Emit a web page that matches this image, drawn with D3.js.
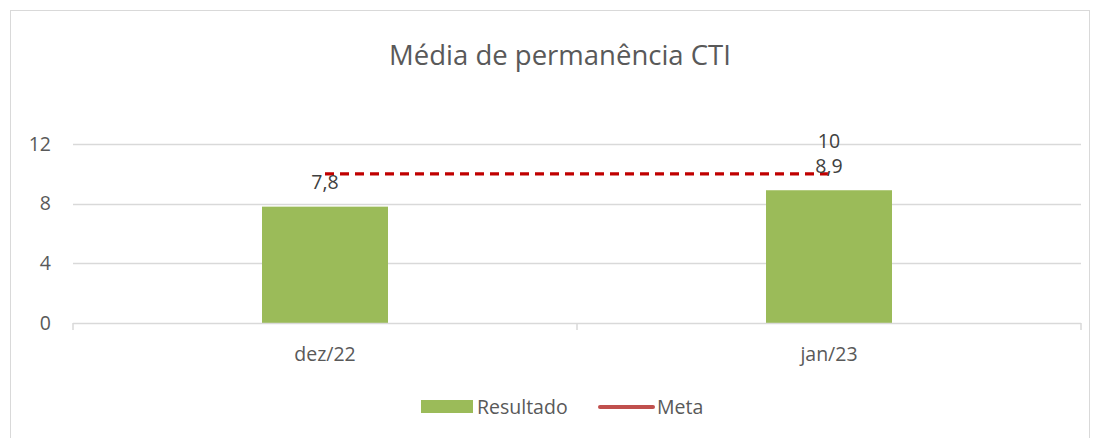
<!DOCTYPE html>
<html><head><meta charset="utf-8">
<script src="https://cdn.jsdelivr.net/npm/d3@7"></script>
<style>body{margin:0;background:#fff;} text{font-family:"Open Sans",Calibri,sans-serif;}</style>
</head><body>
<svg id="c" width="1099" height="438"></svg>
<script>
const categories = ["dez/22", "jan/23"];
const resultado = [7.8, 8.9];
const resultadoLabels = ["7,8", "8,9"];
const meta = [10, 10];
const metaLabels = ["", "10"];
const yTicks = [0, 4, 8, 12];

const svg = d3.select("#c");
const m = {l: 73, r: 1081, t: 144, b: 323};
const fs = 19.5;

svg.append("rect").attr("x", 10.5).attr("y", 10.5).attr("width", 1079).attr("height", 430)
  .attr("fill", "#fff").attr("stroke", "#d9d9d9");

const x = d3.scaleBand().domain(categories).range([m.l, m.r]);
const y = d3.scaleLinear().domain([0, 12]).range([m.b, m.t]);

// gridlines
svg.append("g").selectAll("line").data(yTicks.filter(d => d > 0)).join("line")
  .attr("x1", m.l).attr("x2", m.r).attr("y1", d => Math.round(y(d)) + 0.5).attr("y2", d => Math.round(y(d)) + 0.5)
  .attr("stroke", "#d9d9d9").attr("stroke-width", 1.5);

// y labels
svg.append("g").selectAll("text").data(yTicks).join("text")
  .attr("x", 51).attr("y", d => y(d)).attr("dy", "0.35em").attr("text-anchor", "end")
  .attr("font-size", fs).attr("fill", "#595959").text(d => d);

// bars
const bw = x.bandwidth() * 0.25;
svg.append("g").selectAll("rect").data(categories).join("rect")
  .attr("x", d => x(d) + x.bandwidth() / 2 - bw / 2)
  .attr("y", (d, i) => y(resultado[i]))
  .attr("width", bw)
  .attr("height", (d, i) => y(0) - y(resultado[i]))
  .attr("fill", "#9BBB59");

// x axis
const xAxis = svg.append("g");
xAxis.append("line").attr("x1", m.l).attr("x2", m.r).attr("y1", y(0) + 0.5).attr("y2", y(0) + 0.5)
  .attr("stroke", "#d9d9d9").attr("stroke-width", 1.5);
const bounds = [m.l, ...categories.map(c => x(c) + x.bandwidth())];
xAxis.selectAll(".tk").data(bounds).join("line").attr("class", "tk")
  .attr("x1", d => d).attr("x2", d => d).attr("y1", y(0)).attr("y2", y(0) + 7)
  .attr("stroke", "#d9d9d9").attr("stroke-width", 1.5);
xAxis.selectAll("text").data(categories).join("text")
  .attr("x", d => x(d) + x.bandwidth() / 2).attr("y", 354).attr("dy", "0.35em")
  .attr("text-anchor", "middle").attr("font-size", fs).attr("fill", "#595959").text(d => d);

// meta line
const line = d3.line().x((d, i) => x(categories[i]) + x.bandwidth() / 2).y(d => y(d));
svg.append("path").datum(meta).attr("d", line).attr("fill", "none")
  .attr("stroke", "#C00000").attr("stroke-width", 3.2).attr("stroke-dasharray", "9,6");

// labels
svg.append("g").selectAll("text").data(categories).join("text")
  .attr("x", d => x(d) + x.bandwidth() / 2)
  .attr("y", (d, i) => y(resultado[i]) - 24).attr("dy", "0.35em")
  .attr("text-anchor", "middle").attr("font-size", fs).attr("fill", "#404040")
  .text((d, i) => resultadoLabels[i]);
svg.append("g").selectAll("text").data(categories).join("text")
  .attr("x", d => x(d) + x.bandwidth() / 2)
  .attr("y", (d, i) => y(meta[i]) - 33).attr("dy", "0.35em")
  .attr("text-anchor", "middle").attr("font-size", fs).attr("fill", "#404040")
  .text((d, i) => metaLabels[i]);

// title
svg.append("text").attr("x", 560).attr("y", 55).attr("dy", "0.35em").attr("text-anchor", "middle")
  .attr("font-size", 27.5).attr("fill", "#595959").text("Média de permanência CTI");

// legend
const lg = svg.append("g");
lg.append("rect").attr("x", 421).attr("y", 400).attr("width", 52).attr("height", 13).attr("fill", "#9BBB59");
lg.append("text").attr("x", 477).attr("y", 407).attr("dy", "0.35em").attr("font-size", fs).attr("fill", "#595959").text("Resultado");
lg.append("line").attr("x1", 600).attr("x2", 653).attr("y1", 407).attr("y2", 407)
  .attr("stroke", "#C0504D").attr("stroke-width", 4).attr("stroke-linecap", "round");
lg.append("text").attr("x", 657).attr("y", 407).attr("dy", "0.35em").attr("font-size", fs).attr("fill", "#595959").text("Meta");
</script>
</body></html>
